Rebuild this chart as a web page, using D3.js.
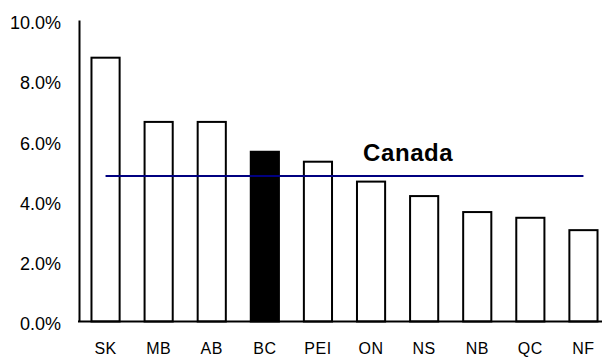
<!DOCTYPE html>
<html>
<head>
<meta charset="utf-8">
<script src="https://cdn.jsdelivr.net/npm/d3@7"></script>
<style>
  html, body { margin: 0; padding: 0; background: #fff; }
  svg { display: block; font-family: "Liberation Sans", Arial, sans-serif; }
</style>
</head>
<body>
<svg id="chart" width="602" height="357"></svg>
<script>
// Provinces and their rates (percent)
const provinces = ["SK", "MB", "AB", "BC", "PEI", "ON", "NS", "NB", "QC", "NF"];
const rates = [8.75, 6.62, 6.62, 5.63, 5.30, 4.64, 4.16, 3.63, 3.44, 3.03];
const highlighted = ["BC"];
const canadaRate = 4.83;
const canadaLabel = "Canada";
const yTicks = [0, 2, 4, 6, 8, 10];

const svg = d3.select("#chart");

const x = d3.scaleBand()
  .domain(provinces)
  .range([79, 610])
  .paddingInner(0.47)
  .paddingOuter(0.235);

const y = d3.scaleLinear()
  .domain([0, 10])
  .range([321.5, 20]);

const data = provinces.map((p, i) => ({ name: p, value: rates[i] }));

// Bars
svg.append("g")
  .selectAll("rect")
  .data(data)
  .join("rect")
  .attr("x", d => x(d.name))
  .attr("y", d => y(d.value))
  .attr("width", x.bandwidth())
  .attr("height", d => y(0) - y(d.value))
  .attr("fill", d => highlighted.includes(d.name) ? "#000" : "#fff")
  .attr("stroke", "#000")
  .attr("stroke-width", 2);

// Y axis
const yAxis = svg.append("g")
  .attr("transform", "translate(79,0)")
  .call(d3.axisLeft(y).tickValues(yTicks).tickSize(0).tickSizeOuter(0).tickPadding(18)
    .tickFormat(d => d.toFixed(1) + "%"));
yAxis.select(".domain").attr("stroke", "#000").attr("stroke-width", 2);
yAxis.selectAll("text")
  .attr("font-family", "Liberation Sans, Arial, sans-serif")
  .attr("font-size", 18)
  .attr("fill", "#000")
  .attr("dy", "0.47em");

// Baseline
svg.append("line")
  .attr("x1", 78).attr("x2", 602)
  .attr("y1", y(0)).attr("y2", y(0))
  .attr("stroke", "#000").attr("stroke-width", 2);

// Category labels
svg.append("g")
  .selectAll("text")
  .data(provinces)
  .join("text")
  .attr("x", d => x(d) + x.bandwidth() / 2)
  .attr("y", 354)
  .attr("text-anchor", "middle")
  .attr("font-size", 16)
  .attr("letter-spacing", 0.5)
  .attr("fill", "#000")
  .text(d => d);

// National average line
const cx0 = x(provinces[0]) + x.bandwidth() / 2;
const cx1 = x(provinces[provinces.length - 1]) + x.bandwidth() / 2;
svg.append("line")
  .attr("x1", cx0).attr("x2", cx1)
  .attr("y1", y(canadaRate)).attr("y2", y(canadaRate))
  .attr("stroke", "#000080").attr("stroke-width", 2);

svg.append("text")
  .attr("x", 363)
  .attr("y", 161)
  .attr("font-size", 24)
  .attr("font-weight", "bold")
  .attr("letter-spacing", 0.6)
  .attr("fill", "#000")
  .text(canadaLabel);
</script>
</body>
</html>
